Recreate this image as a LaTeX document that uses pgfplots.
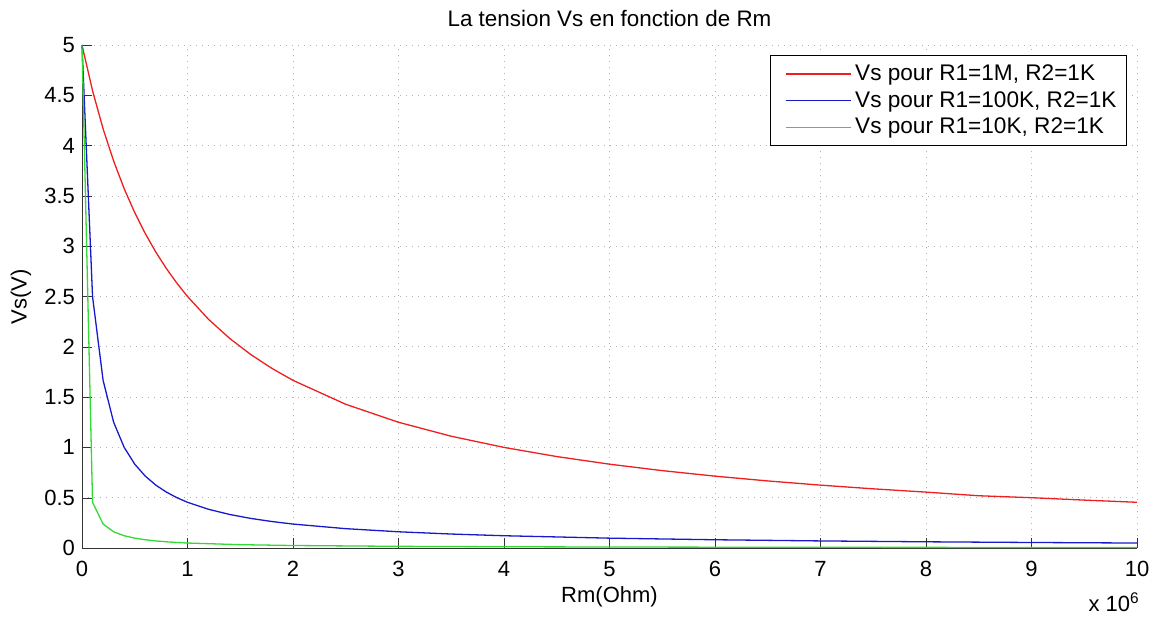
\documentclass[border=0pt]{standalone}
\usepackage{fontspec}
\setmainfont{Liberation Sans}
\usepackage{pgfplots}
\pgfplotsset{compat=1.18}

\definecolor{mred}{rgb}{0.93,0.12,0.12}
\definecolor{mblue}{rgb}{0.1,0.1,0.8}
\definecolor{mgreen}{rgb}{0.2,0.85,0.2}

\begin{document}
\begin{tikzpicture}
% canvas 1154x617 px, 1 px = 0.5pt; axis origin at px (82,548)
\useasboundingbox (-41pt,-34.5pt) rectangle (536pt,274pt);
\begin{axis}[
    name=ax,
    at={(0,0)}, anchor=south west,
    scale only axis,
    width=527.5pt, height=251.5pt,
    xmin=0, xmax=10, ymin=0, ymax=5,
    clip=false,
    xtick={0,1,...,10},
    ytick={0,0.5,...,5},
    yticklabels={0,0.5,1,1.5,2,2.5,3,3.5,4,4.5,5},
    axis x line*=bottom, axis y line*=left,
    axis line style={-, black!80},
    tick align=inside,
    major tick length=5pt,
    tick style={black!80},
    grid=major,
    grid style={dash pattern=on 0.6pt off 2.4pt, gray!60},
    /pgf/number format/assume math mode=true,
    tick label style={font=\fontsize{11}{13}\selectfont},
    xticklabel style={yshift=-3pt},
    xlabel={Rm(Ohm)},
    xlabel style={font=\fontsize{11}{13}\selectfont, at={(axis description cs:0.5,-0.097)}, anchor=center},
    ylabel={Vs(V)},
    ylabel style={font=\fontsize{11}{13}\selectfont, at={(axis description cs:-0.058,0.5)}, anchor=center},
    legend style={at={(1,1)}, anchor=north east, xshift=-5pt, yshift=-5pt,
        font=\fontsize{11.3}{13.5}\selectfont, draw=black, line width=0.5pt,
        inner xsep=3pt, inner ysep=2.5pt},
    legend cell align=left,
    legend image code/.code={\path (-4pt,0pt); \draw[#1, line width=0.6pt] (0pt,0pt) -- (32.5pt,0pt);},
]
% Vs pour R1=1M
\addplot[mred, line width=0.65pt] coordinates {
(0,5) (0.1,4.5455) (0.2,4.1667) (0.3,3.8462) (0.4,3.5714) (0.5,3.3333)
(0.6,3.125) (0.7,2.9412) (0.8,2.7778) (0.9,2.6316) (1,2.5) (1.2,2.2727)
(1.4,2.0833) (1.6,1.9231) (1.8,1.7857) (2,1.6667) (2.5,1.4286) (3,1.25)
(3.5,1.1111) (4,1.0) (4.5,0.9091) (5,0.8333) (5.5,0.7692) (6,0.7143)
(6.5,0.6667) (7,0.625) (7.5,0.5882) (8,0.5556) (8.5,0.5195) (9,0.5)
(9.5,0.4762) (10,0.4545)
};
\addlegendentry{Vs pour R1=1M, R2=1K}
% Vs pour R1=100K
\addplot[mblue, line width=0.65pt] coordinates {
(0,5) (0.1,2.5) (0.2,1.6667) (0.3,1.25) (0.4,1.0) (0.5,0.8333) (0.6,0.7143)
(0.7,0.625) (0.8,0.5556) (0.9,0.5) (1,0.4545) (1.2,0.3846) (1.4,0.3333)
(1.6,0.2941) (1.8,0.2632) (2,0.2381) (2.5,0.1923) (3,0.1613) (3.5,0.1389)
(4,0.1220) (5,0.0980) (6,0.0820) (7,0.0704) (8,0.0617) (9,0.0549) (10,0.0495)
};
\addlegendentry{Vs pour R1=100K, R2=1K}
% Vs pour R1=10K
\addplot[mgreen, line width=0.65pt] coordinates {
(0,5) (0.1,0.4545) (0.2,0.2381) (0.3,0.1613) (0.4,0.1220) (0.5,0.0980)
(0.6,0.0820) (0.7,0.0704) (0.8,0.0617) (0.9,0.0549) (1,0.0495) (1.5,0.0331)
(2,0.0249) (3,0.0166) (4,0.0125) (5,0.0100) (6,0.0083) (7,0.0071)
(8,0.0062) (9,0.0056) (10,0.0050)
};
\addlegendentry{Vs pour R1=10K, R2=1K}
\node[anchor=base, font=\fontsize{11.2}{13}\selectfont]
    at (axis description cs:0.5,1.036) {La tension Vs en fonction de Rm};
\node[anchor=base east, font=\fontsize{11}{13}\selectfont, inner sep=0pt]
    at (axis description cs:1.003,-0.127) {x 10\textsuperscript{6}};
\end{axis}
\end{tikzpicture}
\end{document}
